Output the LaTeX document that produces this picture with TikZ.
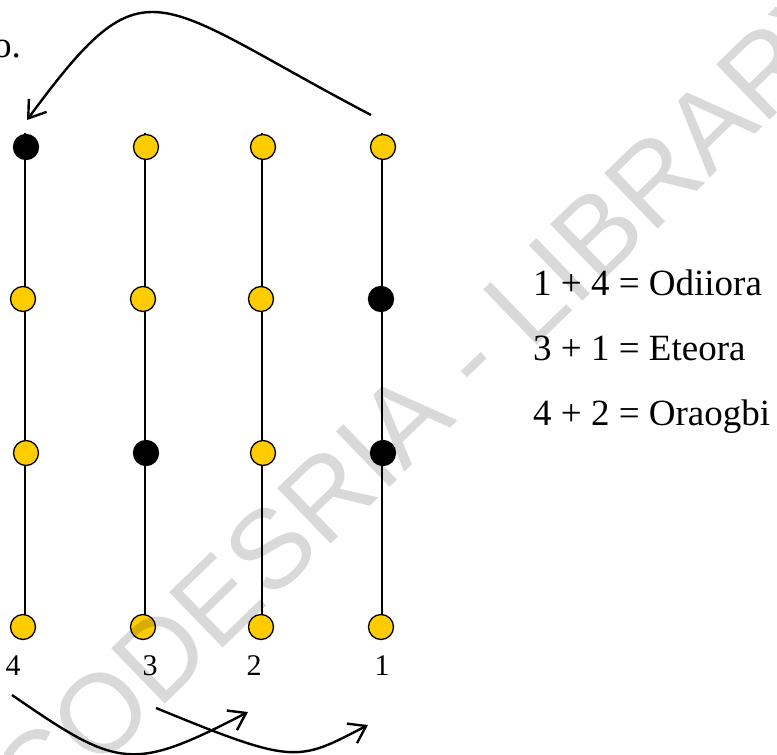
\documentclass[tikz,border=0pt]{standalone}
\usepackage{fontspec}
\setmainfont{Liberation Serif}
\newfontfamily\wmfont{Liberation Sans}
\usetikzlibrary{arrows.meta}
\definecolor{gold}{RGB}{255,204,0}
\begin{document}
\begin{tikzpicture}[x=1pt,y=-1pt,
  dot/.style={circle,draw=black,line width=1.3pt,minimum size=25pt,inner sep=0pt},
  yel/.style={dot,fill=gold},
  blk/.style={dot,fill=black},
  stem/.style={line width=1.8pt},
  arr/.style={line width=2.4pt,-{Straight Barb[length=16pt,width=22pt]}},
  lab/.style={font=\fontsize{30}{32}\selectfont,anchor=base,inner sep=0pt},
  eq/.style={font=\fontsize{37}{40}\selectfont,anchor=base west,inner sep=0pt}]
\useasboundingbox (0,0) rectangle (777,755);
\clip (0,0) rectangle (777,755);
% stems
\foreach \n/\x in {4/25,3/145,2/262,1/382}{
  \coordinate (s\n a) at (\x,133);
  \coordinate (s\n b) at (\x,627);
  \draw[stem] (s\n a) -- (s\n b);
}
% column 4
\node[blk] (a4) at (26,147) {};
\node[yel] (b4) at (23,299) {};
\node[yel] (c4) at (26,453) {};
\node[yel] (d4) at (23,627) {};
% column 3
\node[yel] (a3) at (146,147) {};
\node[yel] (b3) at (143,299) {};
\node[blk] (c3) at (146,453) {};
\node[yel] (d3) at (143,627) {};
% column 2
\node[yel] (a2) at (263,147) {};
\node[yel] (b2) at (261,299) {};
\node[yel] (c2) at (263,453) {};
\node[yel] (d2) at (261,627) {};
% column 1
\node[yel] (a1) at (383,147) {};
\node[blk] (b1) at (381,299) {};
\node[blk] (c1) at (383,453) {};
\node[yel] (d1) at (381,627) {};
% labels
\node[lab] (l4) at (13,675) {4};
\node[lab] (l3) at (150,675) {3};
\node[lab] (l2) at (254,675) {2};
\node[lab] (l1) at (382,675) {1};
% equations
\node[eq] (e1) at (533,295) {1 + 4 = Odiiora};
\node[eq] (e2) at (533,360) {3 + 1 = Eteora};
\node[eq] (e3) at (533,425) {4 + 2 = Oraogbi};
% cut text
\node[font=\fontsize{37}{40}\selectfont,anchor=base east,inner sep=0pt] (cut) at (21,57) {o.};
% arrows
\coordinate (ts) at (371,115);
\coordinate (te) at (27,120);
\draw[arr] (ts) .. controls (150,-1) and (147,-43) .. (te);
\coordinate (as) at (12,695);
\coordinate (ae) at (248,712);
\draw[arr] (as) .. controls (119,769) and (132,772) .. (ae);
\coordinate (bs) at (156,708);
\coordinate (be) at (368,725);
\draw[arr] (bs) .. controls (295,765) and (297,762) .. (be);
% watermark
\node[font=\wmfont\fontsize{112}{112}\selectfont,text=black,opacity=0.15,rotate=44] (wm) at (429,396) {CODESRIA - LIBRARY};
\end{tikzpicture}
\end{document}
